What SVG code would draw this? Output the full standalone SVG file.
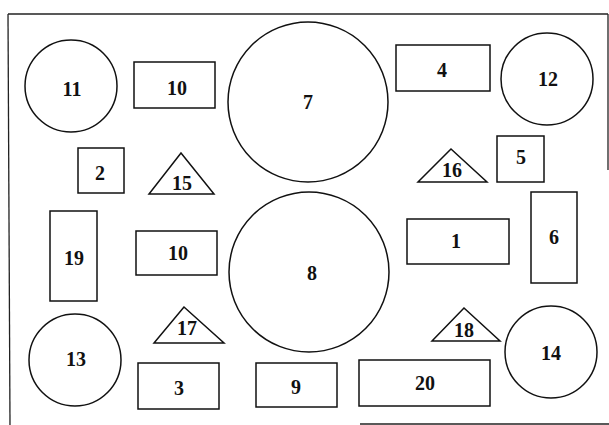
<svg xmlns="http://www.w3.org/2000/svg" width="609" height="425" viewBox="0 0 609 425">
<style>
.s{fill:#fff;stroke:#111;stroke-width:1.5}
.f{fill:none;stroke:#222;stroke-width:1.3}
text{font-family:"Liberation Serif","DejaVu Serif",serif;font-weight:bold;font-size:20px;fill:#111;text-anchor:middle}
</style>
<rect width="609" height="425" fill="#fff"/>
<g id="frame">
<line class="f" x1="8" y1="14" x2="608" y2="14"/>
<line class="f" x1="8" y1="14" x2="10" y2="425"/>
<line class="f" x1="608" y1="14" x2="608" y2="170"/>
<line class="f" x1="360" y1="424" x2="609" y2="424"/>
</g>
<g id="n11"><circle class="s" cx="71" cy="86" r="46"/><text x="72" y="96">11</text></g>
<g id="n10a"><rect class="s" x="134" y="62" width="81" height="46"/><text x="177" y="95">10</text></g>
<g id="n7"><circle class="s" cx="308" cy="102" r="80"/><text x="308" y="109">7</text></g>
<g id="n4"><rect class="s" x="396" y="45" width="94" height="46"/><text x="442" y="77">4</text></g>
<g id="n12"><circle class="s" cx="547" cy="79" r="46"/><text x="548" y="86">12</text></g>
<g id="n2"><rect class="s" x="78" y="148" width="46" height="45"/><text x="100" y="180">2</text></g>
<g id="n15"><polygon class="s" points="181,153 149,194 214,194"/><text x="182" y="190">15</text></g>
<g id="n16"><polygon class="s" points="451,149 418,182 487,182"/><text x="452" y="177">16</text></g>
<g id="n5"><rect class="s" x="497" y="136" width="47" height="46"/><text x="521" y="164">5</text></g>
<g id="n6"><rect class="s" x="531" y="192" width="46" height="91"/><text x="554" y="244">6</text></g>
<g id="n19"><rect class="s" x="50" y="211" width="47" height="90"/><text x="74" y="265">19</text></g>
<g id="n10b"><rect class="s" x="136" y="231" width="81" height="44"/><text x="178" y="260">10</text></g>
<g id="n8"><circle class="s" cx="309" cy="272" r="80"/><text x="312" y="280">8</text></g>
<g id="n1"><rect class="s" x="407" y="219" width="102" height="45"/><text x="456" y="248">1</text></g>
<g id="n17"><polygon class="s" points="184,307 154,343 224,343"/><text x="187" y="335">17</text></g>
<g id="n18"><polygon class="s" points="464,308 432,341 500,341"/><text x="464" y="337">18</text></g>
<g id="n13"><circle class="s" cx="75" cy="360" r="46"/><text x="76" y="366">13</text></g>
<g id="n14"><circle class="s" cx="551" cy="352" r="46"/><text x="551" y="360">14</text></g>
<g id="n3"><rect class="s" x="138" y="363" width="81" height="46"/><text x="179" y="395">3</text></g>
<g id="n9"><rect class="s" x="256" y="363" width="81" height="44"/><text x="296" y="394">9</text></g>
<g id="n20"><rect class="s" x="359" y="360" width="131" height="46"/><text x="425" y="390">20</text></g>
<g id="connectors"></g>
</svg>
